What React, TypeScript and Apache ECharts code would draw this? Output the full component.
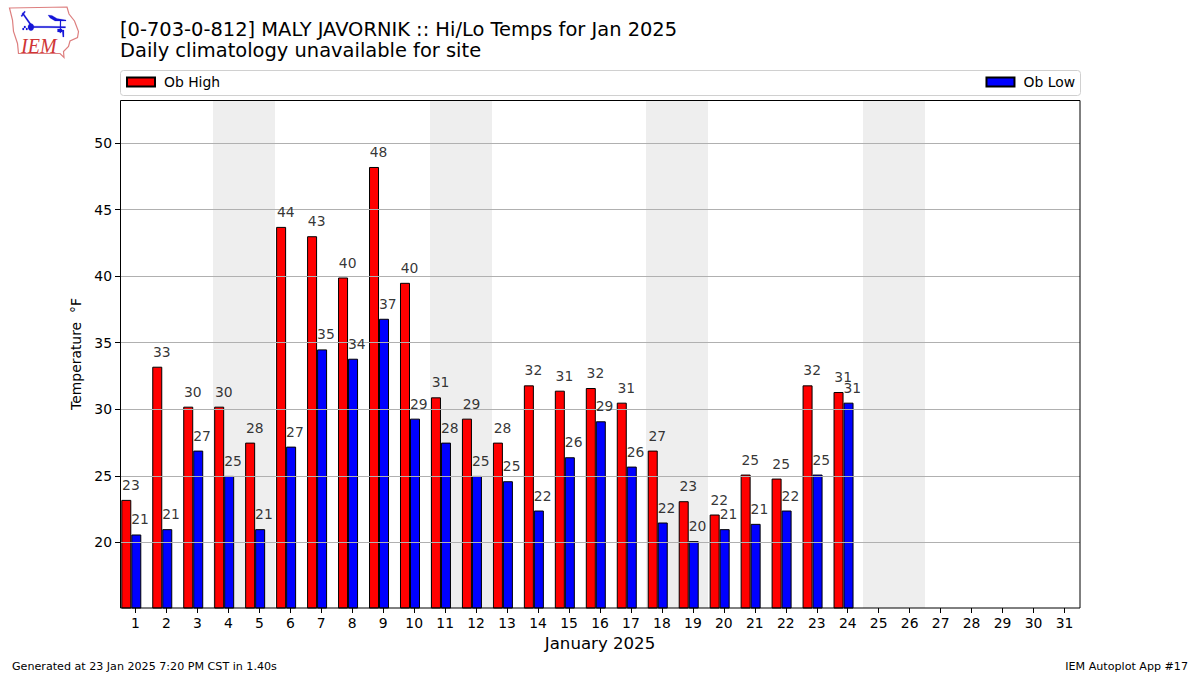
import React, { useEffect, useRef } from "react";
import * as echarts from "echarts";

const days = Array.from({ length: 31 }, (_, i) => String(i + 1));
const obHigh = [23.2, 33.2, 30.2, 30.2, 27.5, 43.7, 43.0, 39.9, 48.2, 39.5, 30.9, 29.3, 27.5, 31.8, 31.4, 31.6, 30.5, 26.9, 23.1, 22.1, 25.1, 24.8, 31.8, 31.3];
const obLow = [20.6, 21.0, 26.9, 25.0, 21.0, 27.2, 34.5, 33.8, 36.8, 29.3, 27.5, 25.0, 24.6, 22.4, 26.4, 29.1, 25.7, 21.5, 20.1, 21.0, 21.4, 22.4, 25.1, 30.5];
const weekendStarts = ["4", "11", "18", "25"];
const yTicks = [20, 25, 30, 35, 40, 45, 50];
const titleLines = ["[0-703-0-812] MALY JAVORNIK :: Hi/Lo Temps for Jan 2025", "Daily climatology unavailable for site"];
const yAxisTitle = "Temperature  °F";
const xAxisTitle = "January 2025";
const footerLeft = "Generated at 23 Jan 2025 7:20 PM CST in 1.40s";
const footerRight = "IEM Autoplot App #17";

const FONT = "DejaVu Sans";

const IOWA = "M9.5 8 L67 7 L69 14 L74.5 21 L78.5 31.5 L77.5 37.5 L70 41 L68.5 46.5 L63.5 51.5 L64 57.5 L60 53.5 L18.5 53.5 L17.5 43.5 L13.5 31.5 L12.5 20 Z";
const VANE = "M31 26 L65.5 26.5 L65.5 28 L31 27.5 Z M31 23.5 A3 3.6 0 1 1 30.9 23.5 Z M30 25 L22 13.5 L23 12.5 L31.2 24 Z M20.8 16 L24.5 11 L25.5 11.8 L22 16.8 Z M48 15 L52 15.5 L57 18.5 L66 20 L66 21 L55 21 L50 18 Z M60 21 L61 21 L60.8 33 L59.8 33 Z M57.5 29 L62 29 L62 32 L57.5 32 Z M62 30 L64 30 L64 37 L62.8 37 Z M24 26 L25.6 26 L25.6 28 L24 28 Z M22.5 28 L24 28 L24 30 L22.5 30 Z M26 28 L27.5 28 L27.5 30 L26 30 Z";

echarts.graphic.registerShape("iowaOutline", echarts.graphic.extendPath(IOWA, {}) as any);
echarts.graphic.registerShape("windVane", echarts.graphic.extendPath(VANE, {}) as any);

function labelSeries(name: string, values: number[], dx: number) {
  return {
    name,
    type: "scatter",
    data: values,
    symbolSize: 0,
    silent: true,
    z: 5,
    label: {
      show: true,
      position: "top",
      distance: 8,
      offset: [dx, 0],
      fontFamily: FONT,
      fontSize: 13.9,
      color: "#000",
      formatter: (p: any) => String(Math.round(p.value)),
    },
  };
}

const legendBase = {
  top: 75,
  padding: 0,
  icon: "rect",
  itemWidth: 28,
  itemHeight: 9,
  textStyle: { fontFamily: FONT, fontSize: 13.9, color: "#000", padding: [0, 0, 0, 4] },
};

export default function App() {
  const ref = useRef<HTMLDivElement>(null);

  useEffect(() => {
    const chart = echarts.init(ref.current!, null, { renderer: "svg" });
    chart.setOption({
      animation: false,
      backgroundColor: "#fff",
      textStyle: { fontFamily: FONT },
      title: {
        text: titleLines.join("\n"),
        left: 120,
        top: 18.5,
        padding: 0,
        textStyle: { fontFamily: FONT, fontSize: 19.45, fontWeight: "normal", color: "#000", lineHeight: 21 },
      },
      legend: [
        { ...legendBase, data: ["Ob High"], left: 126 },
        { ...legendBase, data: ["Ob Low"], right: 125 },
      ],
      grid: { left: 120, top: 100, width: 960, height: 508, show: false },
      xAxis: {
        type: "category",
        data: days,
        z: 3,
        name: xAxisTitle,
        nameLocation: "middle",
        nameGap: 27,
        nameTextStyle: { fontFamily: FONT, fontSize: 16.6, color: "#000" },
        axisLine: { show: false },
        axisTick: { show: true, alignWithLabel: true, length: 5, lineStyle: { color: "#000" } },
        axisLabel: { interval: 0, margin: 8, fontFamily: FONT, fontSize: 13.9, color: "#000" },
        splitLine: { show: false },
      },
      yAxis: {
        type: "value",
        min: 15.08,
        max: 53.23,
        z: 3,
        name: yAxisTitle,
        nameLocation: "middle",
        nameGap: 37,
        nameRotate: 90,
        nameTextStyle: { fontFamily: FONT, fontSize: 13.9, color: "#000" },
        axisLine: { show: false },
        axisTick: { show: true, length: 5, customValues: yTicks, lineStyle: { color: "#000" } },
        axisLabel: { margin: 8, customValues: yTicks, fontFamily: FONT, fontSize: 13.9, color: "#000" },
        splitLine: { show: true, lineStyle: { color: "#b0b0b0", width: 1 } },
      },
      series: [
        {
          type: "custom",
          name: "Weekend",
          z: 1,
          silent: true,
          data: weekendStarts.map((d) => [d]),
          encode: { x: 0 },
          renderItem: (params: any, api: any) => {
            const cs = params.coordSys;
            const w = api.size([1, 0])[0];
            const cx = api.coord([api.value(0), 0])[0];
            const x0 = Math.round(cx - w / 2);
            const x1 = Math.round(cx + (3 * w) / 2);
            return {
              type: "rect",
              shape: { x: x0, y: cs.y, width: x1 - x0, height: cs.height },
              style: { fill: "#eeeeee" },
            };
          },
        },
        {
          name: "Ob High",
          type: "bar",
          data: obHigh,
          barWidth: 10,
          barGap: 0,
          z: 2,
          itemStyle: { color: "#ff0000", borderColor: "#000", borderWidth: 1 },
        },
        {
          name: "Ob Low",
          type: "bar",
          data: obLow,
          barWidth: 10,
          barGap: 0,
          z: 2,
          itemStyle: { color: "#0000ff", borderColor: "#000", borderWidth: 1 },
        },
        { name: "spacer", type: "bar", data: [], barWidth: 8.4, barGap: 0 },
        labelSeries("High labels", obHigh, -4.6),
        labelSeries("Low labels", obLow, 4.6),
      ],
      graphic: [
        { type: "rect", z: -1, shape: { x: 120.5, y: 70.5, width: 960, height: 25, r: 3 }, style: { fill: "#fff", stroke: "#d0d0d0", lineWidth: 1 } },
        { type: "rect", z: 10, silent: true, shape: { x: 120.5, y: 100.5, width: 959.5, height: 507.5 }, style: { fill: "none", stroke: "#000", lineWidth: 1 } },
        { type: "iowaOutline", x: 0, y: 0, style: { fill: "#fff", stroke: "#dd7f7f", lineWidth: 1.2 } },
        { type: "windVane", x: 0, y: 0, style: { fill: "#1414d8", stroke: "#1414d8", lineWidth: 0.2 } },
        { type: "text", x: 21, y: 35.5, style: { text: "IEM", fontFamily: "Liberation Serif", fontStyle: "italic", fontSize: 20, fill: "#cf3535" } },
        { type: "text", x: 12, y: 661, style: { text: footerLeft, fontFamily: FONT, fontSize: 11.12, fill: "#000" } },
        { type: "text", x: 1188, y: 661, style: { text: footerRight, fontFamily: FONT, fontSize: 11.12, fill: "#000", align: "right" } },
      ],
    });
    return () => chart.dispose();
  }, []);

  return <div ref={ref} style={{ position: "fixed", left: 0, top: 0, width: 1200, height: 675 }} />;
}
